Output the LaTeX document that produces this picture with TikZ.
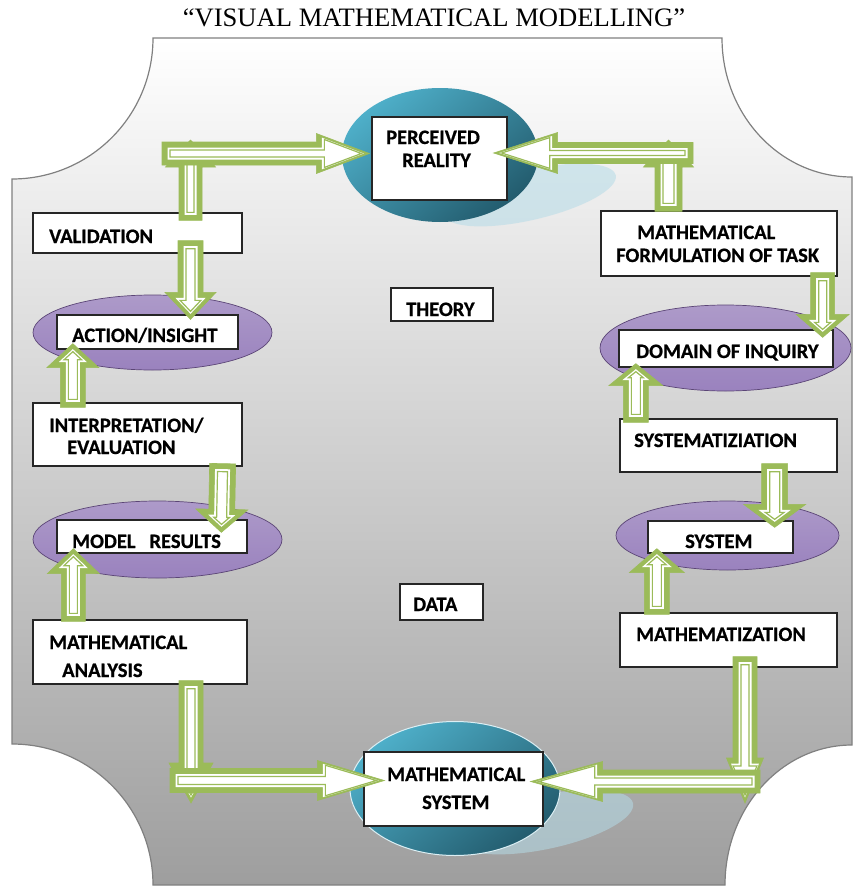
\documentclass[tikz,border=0pt]{standalone}
\usepackage{fontspec}
\setmainfont{Liberation Serif}
\newfontfamily\calibfont{Carlito}[BoldFeatures={FakeBold=0.7}]
\usetikzlibrary{calc,shapes.geometric}

\definecolor{arrowgreen}{HTML}{9BBB59}
\definecolor{tealL}{HTML}{4EAFC9}
\definecolor{tealD}{HTML}{235C6E}
\definecolor{shadowblue}{HTML}{B5DBE7}
\definecolor{purpleL}{HTML}{AD9AC9}
\definecolor{purpleM}{HTML}{8263A9}
\definecolor{purpleB}{HTML}{9A82BE}

\tikzset{
	box/.style={draw=black!85, line width=1.3pt, fill=white, inner sep=0pt},
	lbl/.style={anchor=base west, inner sep=0pt, text=black,
		font=\calibfont\bfseries\fontsize{20.5}{22}\selectfont},
	fatout/.style={fill=arrowgreen, draw=arrowgreen, line width=0.6pt, line join=miter},
	fatwhite/.style={fill=white},
	fatline/.style={draw=arrowgreen, line width=1.2pt, fill=white, line join=miter},
	bigoval/.style={ellipse, inner sep=0pt, top color=tealL, bottom color=tealD, shading angle=40},
	oval/.style={ellipse, inner sep=0pt, draw=purpleM!70!black, line width=0.7pt,
		top color=purpleL, middle color=purpleM, bottom color=purpleB},
	shadowoval/.style={ellipse, inner sep=0pt, fill=shadowblue, fill opacity=0.55}
}

% one layer of a block arrow: start, tip, shaft half width, head half width, head length, inset, style
\newcommand{\fatlayer}[7]{%
	\pgfmathsetmacro{\fatL}{#5-2*#6}%
	\pgfmathsetmacro{\fatH}{#4*\fatL/#5}%
	\pgfmathsetmacro{\fatW}{#3-#6}%
	\coordinate (fa-s) at ($(#1)!{#6*1pt}!(#2)$);
	\coordinate (fa-t) at ($(#2)!{#6*1pt}!(#1)$);
	\coordinate (fa-b) at ($(fa-t)!{\fatL*1pt}!(fa-s)$);
	\path[#7] ($(fa-s)!{\fatW*1pt}!90:(fa-t)$) -- ($(fa-b)!{\fatW*1pt}!90:(fa-t)$)
		-- ($(fa-b)!{\fatH*1pt}!90:(fa-t)$) -- (fa-t) -- ($(fa-b)!{\fatH*1pt}!-90:(fa-t)$)
		-- ($(fa-b)!{\fatW*1pt}!-90:(fa-t)$) -- ($(fa-s)!{\fatW*1pt}!-90:(fa-t)$) -- cycle;
}
\newcommand{\fatarrow}[5]{%
	\coordinate (fa-a) at (#1);
	\coordinate (fa-z) at (#2);
	\fatlayer{fa-a}{fa-z}{#3}{#4}{#5}{0}{fatout}
	\fatlayer{fa-a}{fa-z}{#3}{#4}{#5}{5.5}{fatwhite}
	\fatlayer{fa-a}{fa-z}{#3}{#4}{#5}{8}{fatline}
}

\begin{document}
\begin{tikzpicture}[x=1pt, y=-1pt]
	\useasboundingbox (0,0) rectangle (854,886);

	\node[anchor=base, inner sep=0pt, font=\fontsize{26.6}{30}\selectfont] (title) at (434,27) {“VISUAL MATHEMATICAL MODELLING”};

	% frame with cut corners
	\path[draw=black!50, line width=1.2pt, top color=white, middle color=black!14, bottom color=black!38]
		(153,38) -- (722,38) arc[start angle=180, end angle=90, x radius=130, y radius=139]
		-- (852,745) arc[start angle=-90, end angle=-180, x radius=127, y radius=140]
		-- (153,885) arc[start angle=0, end angle=-90, radius=141]
		-- (12,179) arc[start angle=90, end angle=0, radius=141] -- cycle;

	% ovals
	\node[shadowoval, minimum width=176pt, minimum height=50pt, rotate=13] (perc-sh) at (530,195) {};
	\node[shadowoval, minimum width=180pt, minimum height=54pt, rotate=12] (msys-sh) at (545,822) {};
	\node[bigoval, minimum width=196pt, minimum height=134pt] (perc-ov) at (440,155) {};
	\node[bigoval, minimum width=210pt, minimum height=134pt, draw=white!80!tealL, line width=1pt] (msys-ov) at (455,788.5) {};
	\node[oval, minimum width=239pt, minimum height=75pt] (act-ov) at (152.5,332.5) {};
	\node[oval, minimum width=249pt, minimum height=77pt] (model-ov) at (157.5,539.5) {};
	\node[oval, minimum width=251pt, minimum height=86pt] (domain-ov) at (725.5,348) {};
	\node[oval, minimum width=223pt, minimum height=69pt] (system-ov) at (727.5,535.5) {};

	% boxes
	\node[box, minimum width=209pt, minimum height=40pt] (valid) at (137.5,233) {};
	\node[box, minimum width=209pt, minimum height=63pt] (interp) at (137.5,434.5) {};
	\node[box, minimum width=214pt, minimum height=64pt] (analysis) at (140,652) {};
	\node[box, minimum width=236pt, minimum height=65pt] (formul) at (719,243.5) {};
	\node[box, minimum width=217pt, minimum height=53pt] (systz) at (728.5,445.5) {};
	\node[box, minimum width=217pt, minimum height=54pt] (mathz) at (728.5,640) {};
	\node[box, minimum width=102pt, minimum height=33pt] (theory) at (442,304.5) {};
	\node[box, minimum width=83pt, minimum height=36pt] (data) at (441.5,602) {};
	\node[box, minimum width=181pt, minimum height=34pt] (act) at (147.5,332) {};
	\node[box, minimum width=190pt, minimum height=33pt] (model) at (152,536.5) {};
	\node[box, minimum width=214pt, minimum height=37pt] (domain) at (726,348.5) {};
	\node[box, minimum width=145pt, minimum height=32pt] (system) at (720.5,537) {};
	\node[box, minimum width=135pt, minimum height=83pt] (perc) at (439.5,158.5) {};
	\node[box, minimum width=179pt, minimum height=74pt] (msys) at (453.5,789) {};

	% texts
	\node[lbl] (valid-t) at (49,243) {VALIDATION};
	\node[lbl] (interp-t1) at (49,432) {INTERPRETATION/};
	\node[lbl] (interp-t2) at (67,454) {EVALUATION};
	\node[lbl] (analysis-t1) at (49,649) {MATHEMATICAL};
	\node[lbl] (analysis-t2) at (62,677) {ANALYSIS};
	\node[lbl] (formul-t1) at (637,239) {MATHEMATICAL};
	\node[lbl] (formul-t2) at (616,262) {FORMULATION OF TASK};
	\node[lbl] (systz-t) at (634,447) {SYSTEMATIZIATION};
	\node[lbl] (mathz-t) at (636,641) {MATHEMATIZATION};
	\node[lbl] (theory-t) at (406,316) {THEORY};
	\node[lbl] (data-t) at (413,611) {DATA};
	\node[lbl] (act-t) at (72,342) {ACTION/INSIGHT};
	\node[lbl] (model-t) at (72,548) {MODEL\hspace{14pt}RESULTS};
	\node[lbl] (domain-t) at (636,358) {DOMAIN OF INQUIRY};
	\node[lbl] (system-t) at (685,548) {SYSTEM};
	\node[lbl] (perc-t1) at (386,144) {PERCEIVED};
	\node[lbl] (perc-t2) at (402,167) {REALITY};
	\node[lbl] (msys-t1) at (387,781) {MATHEMATICAL};
	\node[lbl] (msys-t2) at (422,809) {SYSTEM};

	% arrows
	\coordinate (tl) at (190.5,153.5);
	\coordinate (tr) at (668.5,153);
	\coordinate (bl) at (191,780.5);
	\coordinate (br) at (745,781.5);

	\fatarrow{$(valid.north -| tl)+(0,8)$}{$(tl)+(0,-13.5)$}{11.5}{25}{27}
	\fatarrow{$(tl)+(-28.5,0)$}{$(perc.west |- tl)+(-2,0)$}{11.5}{20}{53}
	\fatarrow{$(valid.south -| tl)+(0,-13)$}{$(act.north -| tl)+(0,5)$}{12.5}{25.5}{27}
	\fatarrow{$(interp.north west)+(40.5,5)$}{$(act.south west)+(16.5,-6)$}{12.5}{26}{24}
	\fatarrow{$(interp.south east)+(-20,-3)$}{$(model.north west)+(165,13)$}{13}{26}{23}
	\fatarrow{$(analysis.north west)+(41,2)$}{$(model.south west)+(17,-5)$}{12}{26}{25}
	\fatarrow{$(analysis.south -| bl)+(0,-4)$}{$(bl)+(0,22.5)$}{12}{22}{40}
	\fatarrow{$(bl)+(-21,0)$}{$(msys.west |- bl)+(21,0)$}{12}{20}{67}

	\fatarrow{$(formul.north -| tr)+(0,1)$}{$(tr)+(0,-13)$}{13.5}{25}{27}
	\fatarrow{$(tr)+(24.5,0)$}{$(perc.east |- tr)+(-14,0)$}{10.5}{20.5}{64}
	\fatarrow{$(formul.south east)+(-15,-4)$}{$(domain.north east)+(-11,8)$}{12}{26.5}{23}
	\fatarrow{$(systz.north west)+(16.5,4)$}{$(domain.south west)+(17.5,-4)$}{12.5}{27}{22}
	\fatarrow{$(systz.south east)+(-63,-9)$}{$(system.north east)+(-19,7)$}{13}{31}{23}
	\fatarrow{$(mathz.north west)+(37.5,2)$}{$(system.south west)+(9.5,-5)$}{12.5}{27.5}{24}
	\fatarrow{$(mathz.south -| br)+(0,-11)$}{$(br)+(0,21.5)$}{12}{18.5}{45}
	\fatarrow{$(br)+(15,0)$}{$(msys.east |- br)+(-13,0)$}{11.5}{20}{72}
\end{tikzpicture}
\end{document}
